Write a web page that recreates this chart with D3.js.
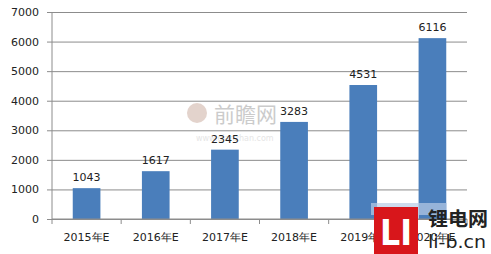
<!DOCTYPE html>
<html>
<head>
<meta charset="utf-8">
<script src="https://cdnjs.cloudflare.com/ajax/libs/d3/7.8.5/d3.min.js"></script>
<style>
body{margin:0;background:#fff;}
svg text{font-family:"DejaVu Sans",Arial,sans-serif;}
</style>
</head>
<body>
<div id="chart"></div>
<script>
var years = ['2015年E','2016年E','2017年E','2018年E','2019年E','2020年E'];
var values = [1043,1617,2345,3283,4531,6116];
var yTicks = [0,1000,2000,3000,4000,5000,6000,7000];

var width = 491, height = 254;
var plot = {left:52, right:467, top:12, bottom:219};

var svg = d3.select('#chart').append('svg')
	.attr('width', width)
	.attr('height', height);

var x = d3.scaleBand()
	.domain(years)
	.range([plot.left, plot.right])
	.paddingInner(0.6)
	.paddingOuter(0.3);

var y = d3.scaleLinear()
	.domain([0, 7000])
	.range([plot.bottom, plot.top]);

// gridlines + y labels
var yAxis = svg.append('g')
	.attr('transform', 'translate(' + plot.left + ',0)')
	.call(d3.axisLeft(y).tickValues(yTicks).tickFormat(d3.format('d'))
		.tickSize(-(plot.right - plot.left)).tickSizeOuter(0));
yAxis.select('.domain').remove();
yAxis.selectAll('.tick line').attr('stroke', '#8c8c8c').attr('x1', -5);
yAxis.selectAll('.tick text')
	.attr('fill', '#222')
	.style('font-size', '11px')
	.attr('x', -13);

// watermark 前瞻网
var wm = svg.append('g').attr('opacity', 0.5);
wm.append('circle').attr('cx', 197).attr('cy', 113).attr('r', 10).attr('fill', '#c9a89a');
wm.append('text').attr('x', 214).attr('y', 122)
	.style('font-family', '"Noto Sans CJK SC"').style('font-size', '21px')
	.attr('fill', '#999').text('前瞻网');
wm.append('text').attr('x', 196).attr('y', 141)
	.style('font-size', '8px').attr('fill', '#ccc').text('www.qianzhan.com');

// bars
svg.append('g').selectAll('rect')
	.data(values)
	.enter().append('rect')
	.attr('x', function(d, i){ return x(years[i]); })
	.attr('y', function(d){ return y(d); })
	.attr('width', x.bandwidth())
	.attr('height', function(d){ return y(0) - y(d); })
	.attr('fill', '#4a7ebb');

// value labels
svg.append('g').selectAll('text')
	.data(values)
	.enter().append('text')
	.attr('x', function(d, i){ return x(years[i]) + x.bandwidth()/2; })
	.attr('y', function(d){ return y(d) - 7; })
	.attr('text-anchor', 'middle')
	.attr('fill', '#222')
	.style('font-size', '11px')
	.text(function(d){ return d; });

// axis lines
svg.append('line')
	.attr('x1', plot.left).attr('x2', plot.left)
	.attr('y1', plot.top).attr('y2', plot.bottom)
	.attr('stroke', '#8c8c8c');

var xAxis = svg.append('g')
	.attr('transform', 'translate(0,' + plot.bottom + ')');
xAxis.append('line')
	.attr('x1', plot.left).attr('x2', plot.right)
	.attr('stroke', '#8c8c8c');
xAxis.selectAll('.tk')
	.data(d3.range(years.length + 1))
	.enter().append('line')
	.attr('x1', function(i){ return plot.left + x.step()*i; })
	.attr('x2', function(i){ return plot.left + x.step()*i; })
	.attr('y1', 0).attr('y2', 5)
	.attr('stroke', '#8c8c8c');
xAxis.selectAll('.lbl')
	.data(years)
	.enter().append('text')
	.attr('x', function(d){ return x(d) + x.bandwidth()/2; })
	.attr('y', 22)
	.attr('text-anchor', 'middle')
	.attr('fill', '#222')
	.style('font-size', '11px')
	.text(function(d){ return d; });

// logo li-b.cn
var logo = svg.append('g');
logo.append('rect').attr('x', 371).attr('y', 203).attr('width', 76).attr('height', 12)
	.attr('fill', '#b8cce6').attr('opacity', 0.7);
logo.append('rect').attr('x', 374).attr('y', 207).attr('width', 44).attr('height', 47).attr('fill', '#d8161b');
logo.append('text').attr('x', 380).attr('y', 245)
	.attr('textLength', 32).attr('lengthAdjust', 'spacingAndGlyphs')
	.style('font-size', '36px').style('font-weight', 'bold').attr('fill', '#fff').text('LI');
logo.append('text').attr('x', 428).attr('y', 226)
	.attr('textLength', 60).attr('lengthAdjust', 'spacingAndGlyphs')
	.style('font-family', '"Noto Sans CJK SC"').style('font-size', '19px').style('font-weight', 'bold')
	.attr('fill', '#222').text('锂电网');
logo.append('text').attr('x', 428).attr('y', 248)
	.attr('textLength', 58).attr('lengthAdjust', 'spacingAndGlyphs')
	.style('font-size', '18px').attr('fill', '#222').text('li-b.cn');
</script>
</body>
</html>
